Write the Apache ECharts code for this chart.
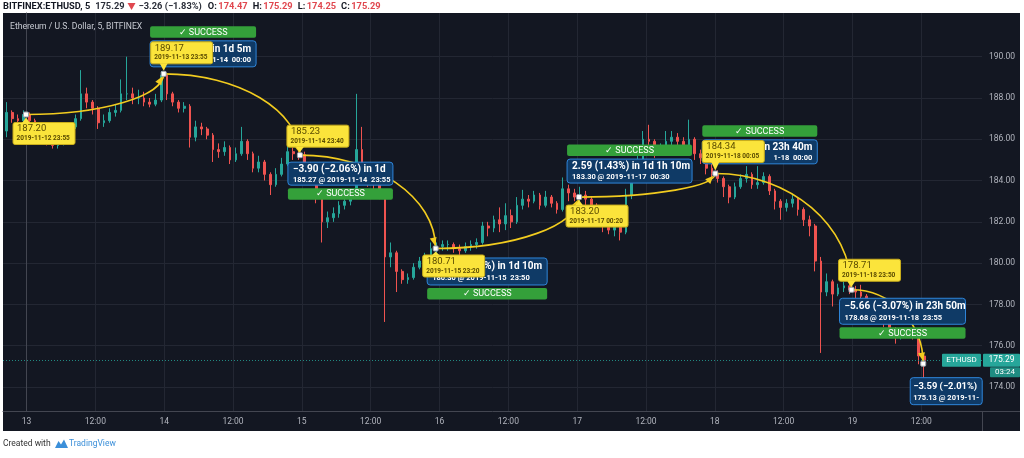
<!DOCTYPE html>
<html>
<head>
<meta charset="utf-8">
<script src="https://cdn.jsdelivr.net/npm/echarts@6/dist/echarts.min.js"></script>
<style>
html,body{margin:0;padding:0;background:#ffffff;}
#wrap{position:relative;width:1024px;height:458px;background:#ffffff;overflow:hidden;}
#panel{position:absolute;left:3px;top:13px;width:1017px;height:418px;background:#131722;}
#chart{position:absolute;left:0;top:0;width:1024px;height:458px;}
</style>
</head>
<body>
<div id="wrap"><div id="panel"></div><div id="chart"></div></div>
<script>
// ---------------- DATA (hourly candles: [open, close, low, high]) ----------------
// hours counted from 2019-11-13 00:00; first candle starts 2019-11-12 20:00
const firstHour = -4;
const nov12 = [
  [186.4,187.3,186.1,187.8],[187.3,187.0,186.8,187.4],[187.0,186.9,186.7,187.2],[186.9,187.2,186.8,187.4]
];
const nov13 = [
  [187.2,186.9,186.7,187.3],[186.9,186.5,186.3,187.0],[186.5,186.2,186.0,186.6],[186.2,185.9,185.7,186.3],
  [185.9,185.7,185.55,186.0],[185.7,185.8,185.55,186.0],[185.8,186.2,185.7,186.4],[186.2,186.6,186.1,186.8],
  [186.6,187.0,186.5,187.2],[187.0,188.2,186.9,189.35],[188.2,187.8,187.5,188.5],[187.8,187.5,187.2,187.9],
  [187.5,186.8,186.5,187.6],[186.8,186.9,186.6,187.2],[186.9,187.3,186.8,187.5],[187.3,187.4,187.1,187.7],
  [187.4,188.2,187.3,188.9],[188.2,188.2,187.9,190.0],[188.2,188.0,187.7,188.5],[188.0,188.0,187.7,188.4],
  [188.0,187.8,187.6,188.3],[187.8,187.7,187.55,188.0],[187.7,187.9,187.6,188.2],[187.9,189.1,187.8,189.3]
];
const nov14 = [
  [189.1,188.2,187.9,189.2],[188.2,187.8,187.6,188.3],[187.8,187.5,187.3,187.9],[187.5,187.6,187.3,187.8],
  [187.6,186.1,185.6,187.7],[186.1,186.6,185.9,186.9],[186.6,186.5,186.2,186.8],[186.5,186.2,186.0,186.6],
  [186.2,185.5,184.9,186.3],[185.5,185.4,185.1,185.8],[185.4,185.6,185.2,185.9],[185.6,185.0,184.8,185.7],
  [185.0,185.3,184.9,185.6],[185.3,185.9,185.2,186.6],[185.9,185.3,185.0,186.0],[185.3,184.6,184.4,185.4],
  [184.6,184.9,184.4,185.2],[184.9,184.3,184.0,185.0],[184.3,183.8,183.3,184.4],[183.8,184.3,183.7,184.6],
  [184.3,184.8,184.2,185.1],[184.8,185.4,184.7,185.7],[185.4,185.3,185.0,185.6],[185.3,185.25,185.0,185.5]
];
const nov15 = [
  [185.25,184.8,184.5,185.4],[184.8,184.2,183.9,184.9],[184.2,183.3,182.9,184.3],[183.3,182.0,181.0,183.4],
  [182.0,182.2,181.7,182.5],[182.2,182.4,182.0,182.7],[182.4,182.8,182.2,183.0],[182.8,183.0,182.6,183.2],
  [183.0,183.4,182.8,183.6],[183.4,185.5,183.2,188.2],[185.5,184.6,184.3,186.6],[184.6,184.0,183.7,184.8],
  [184.0,183.8,183.4,184.3],[183.8,183.4,183.1,184.0],[183.4,180.3,177.15,183.5],[180.3,180.5,179.8,181.0],
  [180.5,179.6,178.6,180.6],[179.6,179.2,179.0,179.7],[179.2,179.3,179.0,179.5],[179.3,179.8,179.2,180.0],
  [179.8,180.1,179.7,180.3],[180.1,180.3,179.9,180.5],[180.3,180.7,180.2,181.0],[180.7,180.8,180.5,181.0]
];
const nov16 = [
  [180.8,180.9,180.6,181.1],[180.9,180.9,180.6,181.1],[180.9,180.7,180.5,181.0],[180.7,180.6,180.4,180.9],
  [180.6,180.8,180.5,181.0],[180.8,180.9,180.6,181.1],[180.9,181.0,180.7,181.2],[181.0,181.8,180.9,182.0],
  [181.8,181.7,181.3,182.0],[181.7,182.1,181.5,182.3],[182.1,181.9,181.5,182.7],[181.9,182.3,181.6,182.9],
  [182.3,182.0,181.7,182.6],[182.0,182.8,181.9,183.2],[182.8,183.1,182.6,183.55],[183.1,183.0,182.7,183.3],
  [183.0,183.3,182.9,183.5],[183.3,182.8,182.6,183.4],[182.8,183.2,182.7,183.5],[183.2,182.9,182.7,183.3],
  [182.9,182.6,182.4,183.0],[182.6,183.6,182.5,184.15],[183.6,183.4,183.0,183.8],[183.4,183.2,183.0,183.6]
];
const nov17 = [
  [183.2,183.3,183.0,183.7],[183.3,183.1,182.8,183.5],[183.1,182.8,182.5,183.2],[182.8,182.4,182.1,182.9],
  [182.4,181.8,181.5,182.5],[181.8,181.6,181.4,181.9],[181.6,181.9,181.3,182.0],[181.9,181.5,181.1,182.0],
  [181.5,183.3,181.4,183.6],[183.3,184.3,183.1,184.5],[184.3,185.0,184.1,185.3],[185.0,186.0,184.8,186.4],
  [186.0,185.9,185.6,186.7],[185.9,185.4,185.1,186.0],[185.4,185.5,185.2,185.8],[185.5,185.9,185.3,186.4],
  [185.9,186.1,185.7,186.4],[186.1,185.9,185.6,186.3],[185.9,185.7,185.4,186.1],[185.7,186.0,185.5,186.95],
  [186.0,185.3,185.0,186.1],[185.3,185.1,184.8,185.5],[185.1,184.6,184.3,185.2],[184.6,184.35,184.1,184.8]
];
const nov18 = [
  [184.35,184.1,183.9,184.5],[184.1,183.7,183.2,184.2],[183.7,183.2,182.9,183.8],[183.2,183.7,183.1,183.9],
  [183.7,184.1,183.6,184.3],[184.1,184.3,183.9,184.7],[184.3,183.8,183.6,184.4],[183.8,183.9,183.6,184.7],
  [183.9,184.2,183.8,184.4],[184.2,183.5,183.3,184.3],[183.5,183.0,182.6,183.6],[183.0,182.7,182.1,183.1],
  [182.7,182.9,182.5,183.1],[182.9,183.1,182.7,183.3],[183.1,182.6,182.3,183.2],[182.6,182.1,181.8,182.7],
  [182.1,181.8,181.3,182.3],[181.8,180.1,179.6,181.9],[180.1,178.6,175.65,180.3],[178.6,179.1,178.4,179.5],
  [179.1,178.5,177.9,179.2],[178.5,178.8,178.4,179.0],[178.8,178.9,178.6,179.1],[178.9,178.7,178.5,179.0]
];
const nov19 = [
  [178.7,178.6,178.3,178.9],[178.6,178.4,178.1,178.95],[178.4,178.0,177.8,178.5],[178.0,177.7,177.5,178.1],
  [177.7,177.4,177.2,177.8],[177.4,177.2,176.9,177.5],[177.2,176.8,176.6,177.3],[176.8,176.5,176.1,176.9],
  [176.5,176.6,176.3,176.8],[176.6,176.6,176.4,176.8],[176.6,176.5,176.3,176.8],[176.5,175.5,175.1,176.6],
  [175.5,175.29,174.25,175.6]
];
const lastPrice = 175.29;

// axis ticks (hours from 2019-11-13 00:00) and their labels
const xTicks = [0,12,24,36,48,60,72,84,96,108,120,132,144,156];
const xTickLabels = ['13','12:00','14','12:00','15','12:00','16','12:00','17','12:00','18','12:00','19','12:00'];
const yTicks = [174,176,178,180,182,184,186,188,190];

// forecast annotations
const anchorTimes = ['2019-11-12 23:55','2019-11-13 23:55','2019-11-14 23:40','2019-11-15 23:20',
                     '2019-11-17 00:20','2019-11-18 00:05','2019-11-18 23:50','2019-11-19 12:20'];
const anchorPrices = [187.20,189.17,185.23,180.71,183.20,184.34,178.71,175.13];
const targetLine1 = ['in 1d 5m','\u22123.90 (\u22122.06%) in 1d','%) in 1d 10m','2.59 (1.43%) in 1d 1h 10m',
                     'in 23h 40m','\u22125.66 (\u22123.07%) in 23h 50m','\u22123.59 (\u22122.01%)'];
const targetLine2 = ['1-14  00:00','185.27 @ 2019-11-14  23:55','180.30 @ 2019-11-15  23:50','183.30 @ 2019-11-17  00:30',
                     '1-18  00:00','178.68 @ 2019-11-18  23:55','175.13 @ 2019-11-19  12:20'];
const targetStatus = ['SUCCESS','SUCCESS','SUCCESS','SUCCESS','SUCCESS','SUCCESS',''];

// header / footer texts
const headerSymbol = 'BITFINEX:ETHUSD, 5';
const headerLast = '175.29';
const headerChange = '\u22123.26 (\u22121.83%)';
const ohlcNames = ['O:','H:','L:','C:'];
const ohlcValues = ['174.47','175.29','174.25','175.29'];
const chartTitle = 'Ethereum / U.S. Dollar, 5, BITFINEX';
const symbolTag = 'ETHUSD';
const countdown = '03:24';

// ---------------- LAYOUT / STYLE ----------------
const FONT = 'Roboto, "Liberation Sans", sans-serif';
const UP = '#26a69a', DOWN = '#ef5350', YEL = '#f2cc1f', GRID = '#232733';
const X_MIN = -4.097, X_MAX = 166.58, Y_MIN = 172.837, Y_MAX = 192.117;
const yellowTop = [8, -32, -30, 6.5, 8, -33, -30.5];
const yellowH = 22, yellowW = 62;
const blueLeft = [-13.6, -12, -8.5, -12, -13, -12, -13];
const blueTop = [-33, 7, 9.5, -38, -33.7, 8.5, 14];
const blueW = [106, 105, 120, 125, 115, 126, 72];
const blueH = [26, 23, 27, 24, 24, 26, 27];
const blueAbove = [true, false, false, true, true, false, false];
const line1Align = ['right','left','right','left','right','left','left'];
const line2Align = ['right','left','left','left','right','left','left'];

function hoursFrom(str){
  const [d,t] = str.split(' ');
  const [Y,M,D] = d.split('-').map(Number);
  const [hh,mm] = t.split(':').map(Number);
  return (Date.UTC(Y,M-1,D,hh,mm) - Date.UTC(2019,10,13,0,0)) / 3600000;
}

const allRows = [].concat(nov12, nov13, nov14, nov15, nov16, nov17, nov18, nov19);
const candleData = allRows.map((r,i) => [firstHour + i + 0.5, r[0], r[1], r[2], r[3]]);

const chart = echarts.init(document.getElementById('chart'), null, {renderer:'canvas', width:1024, height:458});

chart.setOption({
  animation:false,
  backgroundColor:'transparent',
  grid:{left:3, right:42, top:13, bottom:47, containLabel:false, outerBoundsMode:'none'},
  xAxis:{
    type:'value', min:X_MIN, max:X_MAX,
    axisLine:{show:true, lineStyle:{color:'#434651', width:1}},
    axisTick:{show:false, customValues:xTicks},
    axisLabel:{customValues:xTicks, color:'#b2b5be', fontSize:8.5, fontFamily:FONT, margin:6,
      formatter:function(v){ const i = xTicks.indexOf(Math.round(v)); return i>=0 ? xTickLabels[i] : ''; }},
    splitLine:{show:true, lineStyle:{color:GRID, width:1}}
  },
  yAxis:{
    type:'value', position:'right', min:Y_MIN, max:Y_MAX, scale:true,
    axisLine:{show:true, lineStyle:{color:'#434651', width:1}},
    axisTick:{show:false, customValues:yTicks},
    axisLabel:{customValues:yTicks, color:'#b2b5be', fontSize:8.5, fontFamily:FONT, margin:7,
      formatter:function(v){ return v.toFixed(2); }},
    splitLine:{show:true, lineStyle:{color:GRID, width:1}}
  },
  series:[{
    type:'candlestick',
    data:candleData,
    encode:{x:0, y:[1,2,3,4]},
    barWidth:2.2,
    itemStyle:{color:UP, color0:DOWN, borderColor:UP, borderColor0:DOWN, borderWidth:1},
    markLine:{silent:true, symbol:'none', label:{show:false},
      lineStyle:{color:'#26a69a', type:[1,2], width:1, opacity:0.8},
      data:[{yAxis:lastPrice}]}
  }]
});

function txt(x, y, text, o){
  o = o || {};
  return {type:'text', x:x, y:y, z:o.z || 60, silent:true,
    style:Object.assign({text:text, fill:o.fill || '#fff', fontSize:o.size || 9, fontFamily:FONT,
      fontWeight:o.weight || 'normal', align:o.align || 'left', verticalAlign:'middle',
      textAlign:o.align || 'left', textVerticalAlign:'middle'}, o.extra || {})};
}
function rect(x, y, w, h, fill, stroke, z, r){
  return {type:'rect', z:z, silent:true, shape:{x:x, y:y, width:w, height:h, r:r==null?2:r},
    style:{fill:fill, stroke:stroke || null, lineWidth:1}};
}
function bez(p0,p1,p2,p3,t){
  const u=1-t;
  return [u*u*u*p0[0]+3*u*u*t*p1[0]+3*u*t*t*p2[0]+t*t*t*p3[0],
          u*u*u*p0[1]+3*u*u*t*p1[1]+3*u*t*t*p2[1]+t*t*t*p3[1]];
}

const els = [];
// header (white strip): pieces laid out in sequence, scaled to the reference width
(function(){
  const DARK = '#131722', GREY = '#2a2e39', RED = '#e0474f';
  const pieces = [
    {t:headerSymbol, c:DARK, gap:5},
    {t:headerLast, c:GREY, gap:3},
    {tri:true, w:8, gap:3},
    {t:headerChange, c:GREY, gap:6}
  ];
  ohlcNames.forEach((n,i)=>{
    pieces.push({t:n, c:DARK, gap:1.5});
    pieces.push({t:ohlcValues[i], c:RED, gap:i<3?5:0});
  });
  const cv = document.createElement('canvas').getContext('2d');
  const measure = (t,fs)=>{ cv.font = 'bold ' + fs + 'px ' + FONT; return cv.measureText(t).width; };
  const total = fs => pieces.reduce((s,p)=>s + (p.tri ? p.w : measure(p.t,fs)) + p.gap, 0);
  let fs = 9.5;
  const target = 378;
  for (let k=0;k<20;k++){ const w = total(fs); fs = fs * target / w; }
  fs = Math.min(fs, 10.5);
  let x = 3;
  pieces.forEach(p=>{
    if (p.tri){
      els.push({type:'polygon', z:60, silent:true, shape:{points:[[x,3],[x+p.w,3],[x+p.w/2,10]]}, style:{fill:RED}});
      x += p.w + p.gap;
    } else {
      els.push(txt(x, 6.5, p.t, {fill:p.c, size:fs, weight:'bold'}));
      x += measure(p.t,fs) + p.gap;
    }
  });
})();
// title inside chart
els.push(txt(10, 27, chartTitle, {fill:'#c8cbd3', size:8.6, z:30}));
// separators continuing into axis areas
els.push({type:'line', z:5, silent:true, shape:{x1:982.5, y1:411, x2:982.5, y2:431}, style:{stroke:'#434651', lineWidth:1}});
els.push({type:'line', z:5, silent:true, shape:{x1:982, y1:411.5, x2:1020, y2:411.5}, style:{stroke:'#434651', lineWidth:1}});
// footer
els.push(txt(3, 444, 'Created with', {fill:'#333333', size:8.5}));
els.push({type:'polygon', z:60, silent:true, shape:{points:[[55,448],[58.5,441],[61,444.5],[64,439.5],[68,448]]}, style:{fill:'#3b8fd9'}});
els.push(txt(69, 444, 'TradingView', {fill:'#3b8fd9', size:8.5}));

// price tags
const py = chart.convertToPixel({seriesIndex:0}, [0, lastPrice])[1];
els.push(rect(942, py-6.5, 39, 13, '#26a69a', null, 70, 1));
els.push(txt(961.5, py, symbolTag, {fill:'#ffffff', size:8, align:'center', z:71}));
els.push(rect(983, py-6.5, 37, 13, '#26a69a', null, 70, 1));
els.push(txt(1001.5, py, lastPrice.toFixed(2), {fill:'#ffffff', size:8.5, align:'center', z:71}));
els.push(rect(990, py+7, 30, 10, '#1f8c82', null, 70, 1));
els.push(txt(1005, py+12, countdown, {fill:'#ffffff', size:8, align:'center', z:71}));

// annotations
const pts = anchorTimes.map((t,i)=>chart.convertToPixel({seriesIndex:0}, [hoursFrom(t), anchorPrices[i]]));
for (let i=0; i<pts.length-1; i++){
  const s=pts[i], e=pts[i+1], k=0.55;
  const c1=[s[0]+k*(e[0]-s[0]), s[1]];
  const c2=[e[0], e[1]-k*(e[1]-s[1])];
  els.push({type:'bezierCurve', z:40, silent:true,
    shape:{x1:s[0],y1:s[1],x2:e[0],y2:e[1],cpx1:c1[0],cpy1:c1[1],cpx2:c2[0],cpy2:c2[1]},
    style:{stroke:YEL, lineWidth:1.6, fill:null}});
  const b=bez(s,c1,c2,e,0.8);
  let dx=e[0]-b[0], dy=e[1]-b[1]; const L=Math.hypot(dx,dy)||1; dx/=L; dy/=L;
  const tip=[e[0]-dx*3, e[1]-dy*3], base=[tip[0]-dx*8, tip[1]-dy*8];
  els.push({type:'polygon', z:41, silent:true,
    shape:{points:[tip,[base[0]-dy*3.5, base[1]+dx*3.5],[base[0]+dy*3.5, base[1]-dx*3.5]]},
    style:{fill:YEL}});
}
// target (blue) boxes + green status
for (let j=0; j<targetLine1.length; j++){
  const p = pts[j+1];
  const bx = p[0]+blueLeft[j], by = p[1]+blueTop[j], bw = blueW[j], bh = blueH[j];
  const last = (j===targetLine1.length-1);
  els.push(rect(bx, by, bw, bh, '#0f3a66', '#2f86da', 50, 3));
  const pad = last ? 3 : 5;
  const tx1 = line1Align[j]==='right' ? bx+bw-pad : bx+pad;
  const tx2 = line2Align[j]==='right' ? bx+bw-pad : bx+pad;
  const clip = last ? {width:bw-pad-1, overflow:'truncate', ellipsis:''} : {};
  els.push(txt(tx1, by+bh*0.33, targetLine1[j], {size:last?9.4:10, weight:'bold', align:line1Align[j], z:51, extra:clip}));
  els.push(txt(tx2, by+bh*0.76, targetLine2[j], {size:7.5, weight:'bold', align:line2Align[j], z:51, extra:clip}));
  if (targetStatus[j]){
    const gy = blueAbove[j] ? by-3-11.5 : by+bh+3;
    els.push(rect(bx, gy, bw, 11.5, '#34a03a', null, 50, 2));
    els.push(txt(bx+bw/2, gy+6, '\u2713 ' + targetStatus[j], {size:9, align:'center', z:51}));
  }
}
// source (yellow) labels
for (let i=0; i<pts.length-1; i++){
  const p = pts[i];
  const lx = p[0]-13, ly = p[1]+yellowTop[i];
  const below = yellowTop[i] > 0;
  els.push(rect(lx, ly, yellowW, yellowH, '#fbe43b', '#c9ad1c', 55, 2));
  if (below){
    els.push({type:'polygon', z:55, silent:true, shape:{points:[[p[0]-4, ly+0.5],[p[0]+4, ly+0.5],[p[0], p[1]+3]]}, style:{fill:'#fbe43b'}});
  } else {
    els.push({type:'polygon', z:55, silent:true, shape:{points:[[p[0]-4, ly+yellowH-0.5],[p[0]+4, ly+yellowH-0.5],[p[0], p[1]-3]]}, style:{fill:'#fbe43b'}});
  }
  els.push(txt(lx+4, ly+6.5, anchorPrices[i].toFixed(2), {fill:'#5a4b00', size:9.5, z:56}));
  els.push(txt(lx+3.5, ly+16, anchorTimes[i], {fill:'#5a4b00', size:6.5, z:56, weight:'bold',
    extra:{width:yellowW-6, overflow:'truncate', ellipsis:''}}));
}
// anchor points
pts.forEach(p=>{
  els.push(rect(p[0]-2.5, p[1]-2.5, 5, 5, '#ffffff', '#9aa0aa', 58, 1));
});

chart.setOption({graphic:{elements:els}});
</script>
</body>
</html>
